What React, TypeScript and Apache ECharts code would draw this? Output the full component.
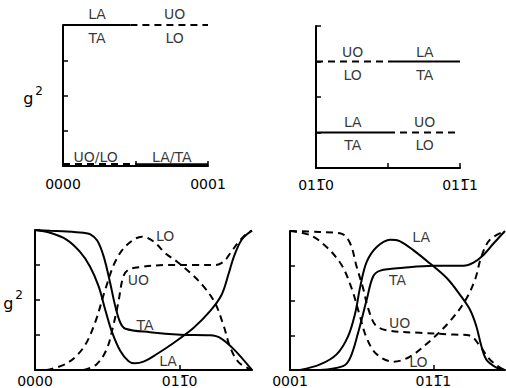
import React, { useEffect, useRef } from "react";
import * as echarts from "echarts";

// ---- Data (x in path units, y = g^2 in tick units 0..4) ----
// Panel 1 (0000 -> 0001)
const p1TopSolid = [[0, 4], [0.93, 4]]; // LA / TA
const p1TopDashed = [[0.93, 4], [2, 4]]; // UO / LO
const p1BotDashed = [[0, 0.06], [1, 0.06]]; // UO/LO
const p1BotSolid = [[1, 0.05], [2, 0.05]]; // LA/TA
const p1Labels = [
  { name: "LA", value: [0.47, 4.3] },
  { name: "TA", value: [0.47, 3.63] },
  { name: "UO", value: [1.54, 4.3] },
  { name: "LO", value: [1.54, 3.63] },
  { name: "UO/LO", value: [0.45, 0.25] },
  { name: "LA/TA", value: [1.5, 0.25] },
];

// Panel 2 (011̄0 -> 011̄1)
const p2UpperDashed = [[0, 3], [1.07, 3]]; // UO / LO
const p2UpperSolid = [[1.07, 3], [2, 3]]; // LA / TA
const p2LowerSolid = [[0, 1], [1.0, 1]]; // LA / TA
const p2LowerDashed = [[1.0, 1], [2, 1]]; // UO / LO
const p2Labels = [
  { name: "UO", value: [0.51, 3.27] },
  { name: "LO", value: [0.51, 2.62] },
  { name: "LA", value: [1.51, 3.27] },
  { name: "TA", value: [1.51, 2.62] },
  { name: "LA", value: [0.51, 1.29] },
  { name: "TA", value: [0.51, 0.65] },
  { name: "UO", value: [1.51, 1.29] },
  { name: "LO", value: [1.51, 0.65] },
];

// Panel 3 (0000 -> 011̄0 -> ...)
const p3TA = [[0, 4], [0.21, 3.98], [0.44, 3.96], [0.67, 3.92], [0.76, 3.88], [0.86, 3.7], [0.95, 3.24], [1.04, 2.48], [1.11, 1.82], [1.18, 1.35], [1.25, 1.18], [1.59, 1.08], [2.01, 1.01], [2.42, 0.99], [2.56, 0.92], [2.75, 0.59], [3, 0]];
const p3LA = [[0, 4], [0.21, 3.92], [0.44, 3.72], [0.62, 3.38], [0.76, 2.96], [0.88, 2.39], [0.97, 1.73], [1.06, 1.11], [1.18, 0.54], [1.29, 0.26], [1.38, 0.19], [1.5, 0.24], [1.68, 0.45], [1.92, 0.78], [2.19, 1.2], [2.42, 1.68], [2.58, 2.15], [2.68, 2.77], [2.75, 3.24], [2.86, 3.73], [3, 3.98]];
const p3LO = [[0.16, 0], [0.44, 0.19], [0.67, 0.64], [0.83, 1.35], [0.97, 2.29], [1.11, 3.1], [1.27, 3.57], [1.48, 3.81], [1.64, 3.67], [1.8, 3.34], [1.96, 3.1], [2.15, 2.77], [2.33, 2.39], [2.49, 1.91], [2.61, 1.25], [2.7, 0.64], [2.82, 0.21], [3, 0]];
const p3UO = [[0.67, 0], [0.85, 0.16], [0.99, 0.59], [1.08, 1.25], [1.15, 1.91], [1.22, 2.67], [1.29, 2.86], [1.45, 2.94], [1.82, 3.0], [2.19, 3.0], [2.49, 3.0], [2.61, 3.1], [2.7, 3.34], [2.82, 3.67], [2.93, 3.9], [3, 3.98]];
const p3Labels = [
  { name: "LO", value: [1.8, 3.83] },
  { name: "UO", value: [1.43, 2.58] },
  { name: "TA", value: [1.52, 1.3] },
  { name: "LA", value: [1.84, 0.26] },
];

// Panel 4 (0001 -> 011̄1 -> ...)
const p4LA = [[0.14, 0], [0.42, 0.16], [0.65, 0.45], [0.81, 0.97], [0.91, 1.64], [0.98, 2.4], [1.07, 3.11], [1.21, 3.54], [1.4, 3.75], [1.53, 3.71], [1.72, 3.45], [1.95, 3.07], [2.19, 2.64], [2.37, 2.17], [2.51, 1.74], [2.6, 1.26], [2.67, 0.69], [2.74, 0.3], [2.88, 0.07], [3, 0]];
const p4TA = [[0.42, 0], [0.74, 0.11], [0.84, 0.35], [0.95, 1.07], [1.07, 2.02], [1.16, 2.69], [1.26, 2.86], [1.58, 2.94], [2.0, 3.0], [2.42, 3.0], [2.56, 3.09], [2.7, 3.31], [2.84, 3.64], [3, 4]];
const p4UO = [[0, 4], [0.42, 3.97], [0.72, 3.92], [0.84, 3.64], [0.93, 2.97], [1.02, 2.35], [1.09, 1.78], [1.19, 1.3], [1.35, 1.14], [1.81, 1.07], [2.28, 1.02], [2.51, 0.99], [2.65, 0.69], [2.79, 0.3], [2.93, 0.07], [3, 0]];
const p4LO = [[0, 4], [0.28, 3.88], [0.51, 3.54], [0.72, 3.02], [0.86, 2.35], [0.97, 1.59], [1.07, 0.92], [1.21, 0.45], [1.44, 0.24], [1.67, 0.38], [1.95, 0.83], [2.23, 1.4], [2.44, 1.98], [2.58, 2.59], [2.67, 3.26], [2.79, 3.75], [3, 4]];
const p4Labels = [
  { name: "LA", value: [1.83, 3.83] },
  { name: "TA", value: [1.5, 2.6] },
  { name: "UO", value: [1.53, 1.34] },
  { name: "LO", value: [1.79, 0.23] },
];

// Axis tick labels
const xLabelValues = [0, 2];
const xLabelsP1 = ["0000", "0001"];
const xLabelsP2 = ["011\u03050", "011\u03051"];
const xLabelsP3 = ["0000", "011\u03050"];
const xLabelsP4 = ["0001", "011\u03051"];
const xTicksTop = [1, 2];
const xTicksBottom = [2];
const yTickVals = [1, 2, 3, 4];

const FONT = "DejaVu Sans";

export default function App() {
  const ref = useRef<HTMLDivElement>(null);
  useEffect(() => {
    if (!ref.current) return;
    const chart = echarts.init(ref.current, null, { renderer: "svg" });

    const mkX = (idx: number, max: number, ticks: number[], labels: string[], margin: number) => ({
      type: "value",
      gridIndex: idx,
      min: 0,
      max,
      interval: 1,
      splitLine: { show: false },
      axisLine: { show: true, onZero: false, lineStyle: { color: "#000", width: 2 } },
      axisTick: { show: true, inside: true, length: 5, customValues: ticks, lineStyle: { color: "#000", width: 1.5 } },
      axisLabel: {
        show: true,
        customValues: xLabelValues,
        margin,
        color: "#000",
        fontSize: 14,
        fontFamily: FONT,
        formatter: (v: number) => {
          const i = xLabelValues.indexOf(v);
          return i >= 0 ? labels[i] : "";
        },
      },
    });

    const mkY = (idx: number, withName: boolean, gap: number) => ({
      type: "value",
      gridIndex: idx,
      min: 0,
      max: 4,
      interval: 1,
      splitLine: { show: false },
      axisLine: { show: true, onZero: false, lineStyle: { color: "#000", width: 2 } },
      axisTick: { show: true, inside: true, length: 5, customValues: yTickVals, lineStyle: { color: "#000", width: 1.5 } },
      axisLabel: { show: false },
      name: withName ? "{g|g}{s|2}" : "",
      nameLocation: "middle",
      nameRotate: 0,
      nameGap: gap,
      nameTextStyle: {
        color: "#000",
        fontFamily: FONT,
        rich: {
          g: { fontSize: 16, fontFamily: FONT, color: "#000", verticalAlign: "bottom", lineHeight: 22 },
          s: { fontSize: 12, fontFamily: FONT, color: "#000", verticalAlign: "top", lineHeight: 22, padding: [0, 0, 0, 2] },
        },
      },
    });

    const line = (idx: number, data: number[][], dashed: boolean, smooth: number | boolean = 0.35) => ({
      type: "line",
      xAxisIndex: idx,
      yAxisIndex: idx,
      data,
      smooth,
      symbol: "none",
      clip: false,
      silent: true,
      lineStyle: { color: "#000", width: 2, type: dashed ? [7, 5] : "solid" },
    });

    const labels = (idx: number, data: any[]) => ({
      type: "scatter",
      xAxisIndex: idx,
      yAxisIndex: idx,
      data,
      symbolSize: 0,
      clip: false,
      silent: true,
      label: {
        show: true,
        position: "inside",
        formatter: "{b}",
        color: "#000",
        fontSize: 14,
        fontFamily: FONT,
      },
    });

    chart.setOption({
      animation: false,
      backgroundColor: "#fff",
      grid: [
        { left: 63, top: 25, width: 145, height: 141 },
        { left: 316, top: 26, width: 144, height: 142 },
        { left: 35, top: 230, width: 217, height: 141 },
        { left: 290, top: 231, width: 215, height: 140 },
      ],
      xAxis: [
        mkX(0, 2, xTicksTop, xLabelsP1, 11),
        mkX(1, 2, xTicksTop, xLabelsP2, 10),
        mkX(2, 3, xTicksBottom, xLabelsP3, 4),
        mkX(3, 3, xTicksBottom, xLabelsP4, 4),
      ],
      yAxis: [mkY(0, true, 20), mkY(1, false, 0), mkY(2, true, 12), mkY(3, false, 0)],
      series: [
        line(0, p1TopSolid, false, false),
        line(0, p1TopDashed, true, false),
        line(0, p1BotDashed, true, false),
        line(0, p1BotSolid, false, false),
        labels(0, p1Labels),
        line(1, p2UpperDashed, true, false),
        line(1, p2UpperSolid, false, false),
        line(1, p2LowerSolid, false, false),
        line(1, p2LowerDashed, true, false),
        labels(1, p2Labels),
        line(2, p3TA, false),
        line(2, p3LA, false),
        line(2, p3LO, true),
        line(2, p3UO, true),
        labels(2, p3Labels),
        line(3, p4LA, false),
        line(3, p4TA, false),
        line(3, p4UO, true),
        line(3, p4LO, true),
        labels(3, p4Labels),
      ],
    });
    return () => chart.dispose();
  }, []);
  return <div ref={ref} style={{ position: "fixed", left: 0, top: 0, width: 506, height: 388, background: "#fff" }} />;
}
